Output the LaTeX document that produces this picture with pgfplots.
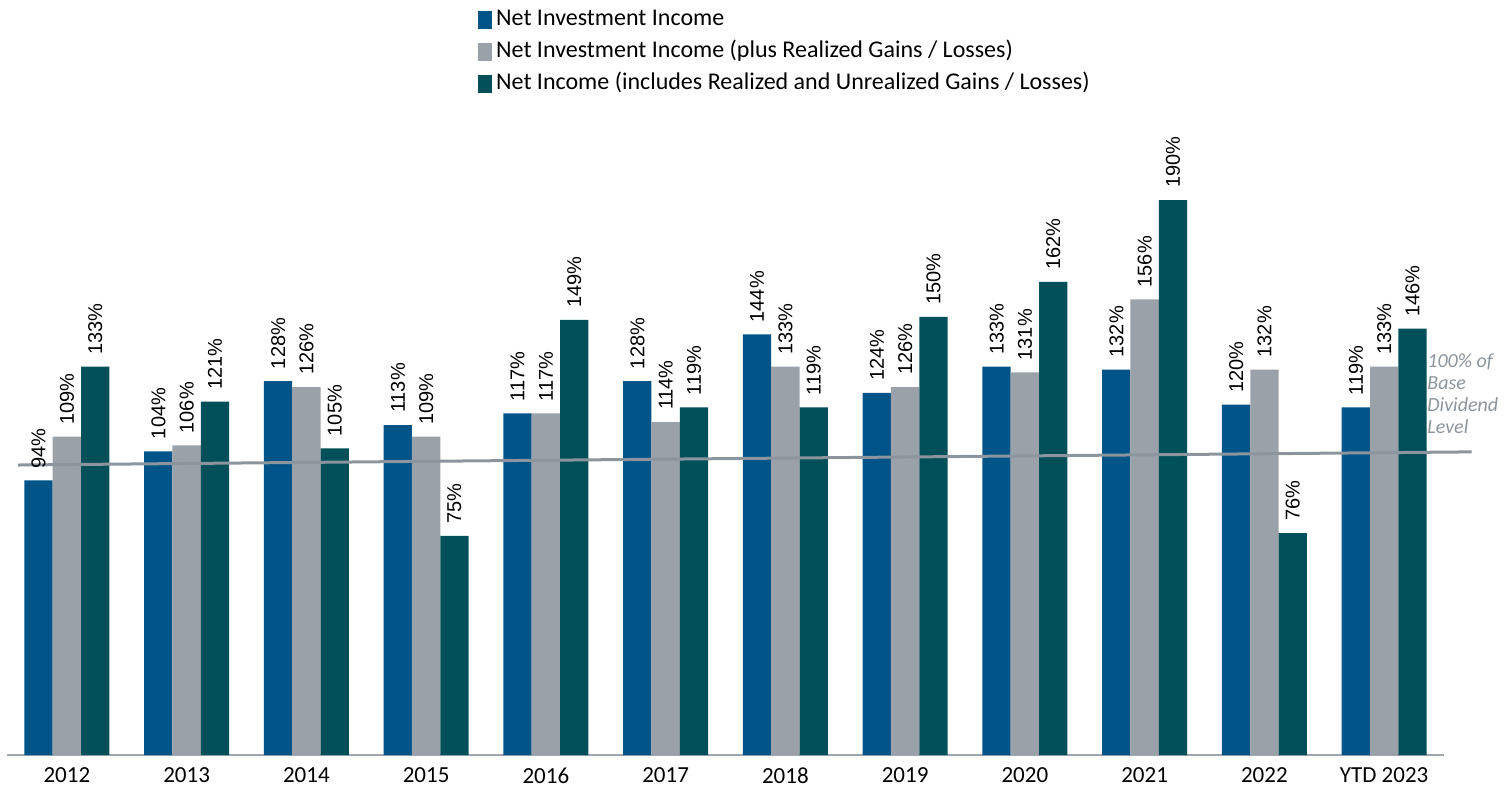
\documentclass[border=0pt]{standalone}
\usepackage{pgfplots}
\pgfplotsset{compat=1.18}
\usepackage{fontspec}
\setmainfont{Carlito}
\newfontfamily\arial{Liberation Sans}
\definecolor{cblue}{RGB}{0,84,136}
\definecolor{cgray}{RGB}{155,161,168}
\definecolor{cteal}{RGB}{0,79,89}
\definecolor{lgray}{RGB}{140,149,157}
\definecolor{agray}{RGB}{160,166,173}
\begin{document}
\begin{tikzpicture}
\useasboundingbox (-7bp,-35bp) rectangle (1505bp,755bp);
\begin{axis}[
  at={(0,0)}, anchor=south west,
  scale only axis, width=1437bp, height=655bp,
  xmin=-0.5, xmax=11.5, ymin=0, ymax=224.3,
  axis x line=bottom, axis y line=none,
  x axis line style={agray, line width=2bp, -},
  ytick=\empty,
  xtick={0,...,11},
  xticklabels={2012,2013,2014,2015,2016,2017,2018,2019,2020,2021,2022,YTD 2023},
  major tick length=0pt,
  xticklabel style={font=\fontsize{23bp}{27bp}\selectfont, yshift=-9bp},
  /pgf/number format/assume math mode=true,
  ybar=0pt, bar width=0.236,
  clip=false,
  nodes near coords={\pgfmathprintnumber[fixed,precision=0]{\pgfplotspointmeta}\%},
  every node near coord/.append style={rotate=90, anchor=west, inner xsep=12bp, inner ysep=0pt, font=\arial\fontsize{20bp}{24bp}\selectfont, black},
  legend style={at={(468bp,748.5bp)}, anchor=north west, draw=none, fill=none,
    font=\fontsize{24bp}{28bp}\selectfont, row sep=10bp,
    nodes={inner xsep=4bp, inner ysep=0pt, text height=17bp, text depth=5bp}},
  legend cell align=left,
  legend image code/.code={\path (0bp,-9bp) rectangle (14bp,9bp); \fill[#1,draw=none] (0bp,-4.5bp) rectangle (14bp,9bp);},
]
\addplot[fill=cblue, draw=none] coordinates {(0,94) (1,104) (2,128) (3,113) (4,117) (5,128) (6,144) (7,124) (8,133) (9,132) (10,120) (11,119)};
\addplot[fill=cgray, draw=none] coordinates {(0,109) (1,106) (2,126) (3,109) (4,117) (5,114) (6,133) (7,126) (8,131) (9,156) (10,132) (11,133)};
\addplot[fill=cteal, draw=none] coordinates {(0,133) (1,121) (2,105) (3,75) (4,149) (5,119) (6,119) (7,150) (8,162) (9,190) (10,76) (11,146)};
\legend{Net Investment Income, Net Investment Income (plus Realized Gains / Losses), Net Income (includes Realized and Unrealized Gains / Losses)}
\addplot[sharp plot, lgray, line width=3bp, nodes near coords={}, forget plot] coordinates {(-0.41,99.3) (11.73,103.8)};
\node[anchor=north west, align=left, inner sep=0pt, text=lgray, font=\itshape\fontsize{20bp}{22bp}\selectfont] at (axis cs:11.36,137.5) {100\% of\\Base\\Dividend\\Level};
\end{axis}
\end{tikzpicture}
\end{document}
